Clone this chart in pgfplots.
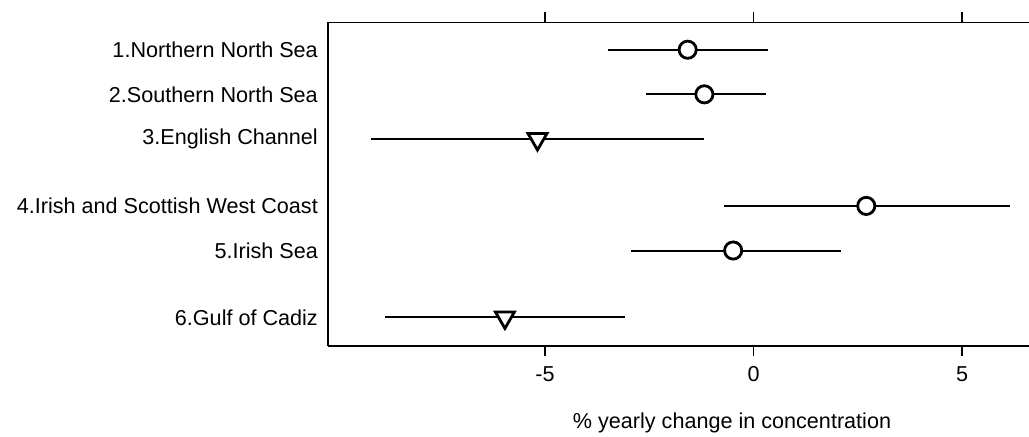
\documentclass[border=0pt]{standalone}
\usepackage{fontspec}
\setmainfont{Liberation Sans}
\usepackage{pgfplots}
\pgfplotsset{compat=1.18}
\usepackage{pgfplotstable}
\pgfplotstableread{
y    x      ep    em
0    -1.58  1.93  1.90
1    -1.18  1.47  1.40
3.5   2.70  3.45  3.40
4.5  -0.49  2.58  2.45
}\circdata
\pgfplotstableread{
y    x      ep    em
2    -5.18  4.00  4.00
6    -5.96  2.87  2.88
}\tridata
\begin{document}
\fontsize{10.8pt}{13pt}\selectfont
\begin{tikzpicture}
\begin{axis}[
  at={(164pt,45.5pt)}, anchor=south west,
  scale only axis, width=350.5pt, height=161.75pt,
  xmin=-10.2, xmax=6.6,
  ymin=-0.61, ymax=6.64, y dir=reverse,
  axis x line*=box, axis y line*=left,
  axis line style={line width=0.9pt, -},
  xtick={-5,0,5}, xtick pos=both, xticklabel pos=lower,
  tick align=outside, major tick length=5pt,
  tick style={line width=0.8pt, black},
  /pgf/number format/assume math mode=true,
  xticklabel style={font=\fontsize{10.8pt}{13pt}\selectfont, yshift=-1.5pt},
  ytick={0,1,2,3.5,4.5,6},
  yticklabels={1.Northern North Sea,2.Southern North Sea,3.English Channel,4.Irish and Scottish West Coast,5.Irish Sea,6.Gulf of Cadiz},
  yticklabel style={font=\fontsize{10.8pt}{13pt}\selectfont, xshift=3.7pt},
  y tick style={draw=none},
  clip=false,
]
\addplot[black, only marks, mark=none, forget plot,
  error bars/.cd, x dir=both, x explicit, error mark=none,
  error bar style={draw=black, line width=1pt}]
  table[x=x, y=y, x error plus=ep, x error minus=em] {\circdata};
\addplot[black, only marks, mark=none, forget plot,
  error bars/.cd, x dir=both, x explicit, error mark=none,
  error bar style={draw=black, line width=1pt}]
  table[x=x, y=y, x error plus=ep, x error minus=em] {\tridata};
\addplot[only marks, mark=*, mark size=4.3pt,
  mark options={draw=black, fill=white, line width=1.4pt}]
  table[x=x, y=y] {\circdata};
\addplot[only marks, mark=triangle*, mark size=5.5pt,
  mark options={draw=black, fill=white, line width=1.4pt, rotate=180}]
  table[x=x, y=y] {\tridata};
\end{axis}
\node[anchor=base] at (366pt,4pt) {\% yearly change in concentration};
\pgfresetboundingbox
\useasboundingbox (0,0) rectangle (514.5pt,218.5pt);
\end{tikzpicture}
\end{document}
